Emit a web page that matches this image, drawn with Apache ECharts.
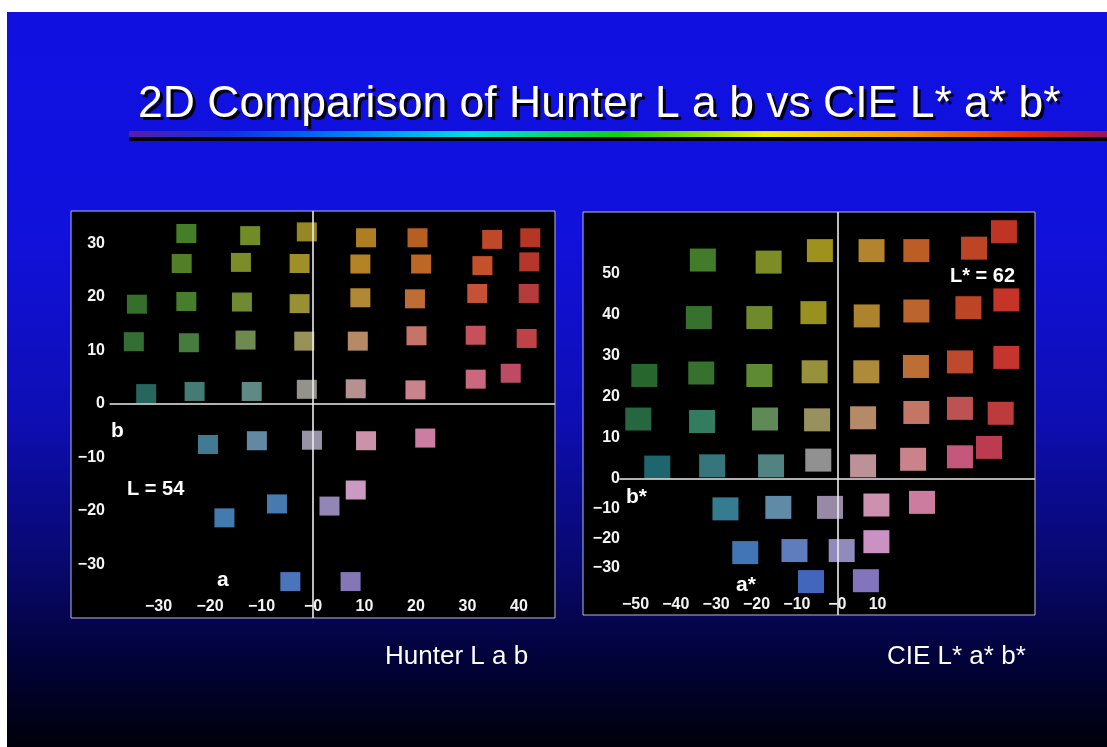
<!DOCTYPE html>
<html><head><meta charset="utf-8">
<script src="https://cdn.jsdelivr.net/npm/echarts@6/dist/echarts.min.js"></script>
<style>html,body{margin:0;padding:0;background:#fff;}#c{width:1107px;height:747px;}</style>
</head><body><div id="c"></div>
<script>
// ---------- Hunter L a b (L = 54) ----------
const hunterA = [
  -24.6, -12.2, -1.2, 10.3, 20.3, 34.8, 42.2,
  -25.5, -14.0, -2.6, 9.2, 21.0, 32.9, 42.0,
  -34.2, -24.6, -13.8, -2.6, 9.2, 19.8, 31.9, 41.9,
  -34.8, -24.1, -13.1, -1.7, 8.7, 20.1, 31.6, 41.5,
  -32.4, -23.0, -11.9, -1.2, 8.3, 19.9, 31.6, 38.4,
  -20.4, -10.9, -0.2, 10.3, 21.8,
  8.3, -7.0, 3.2, -17.2, -4.4, 7.3
];
const hunterB = [
  31.8, 31.4, 32.1, 31.0, 31.0, 30.7, 31.0,
  26.2, 26.4, 26.2, 26.1, 26.1, 25.8, 26.5,
  18.6, 19.1, 19.0, 18.7, 19.8, 19.6, 20.6, 20.6,
  11.6, 11.4, 11.9, 11.7, 11.7, 12.7, 12.8, 12.2,
  1.9, 2.3, 2.3, 2.7, 2.8, 2.6, 4.6, 5.7,
  -7.6, -6.9, -6.8, -6.9, -6.4,
  -16.1, -18.7, -19.1, -21.3, -33.2, -33.2
];
const hunterColor = [
  '#4c8c2c', '#7e9c2c', '#a89628', '#c48c26', '#cc6a26', '#d4502c', '#cc3c2a',
  '#5a8c2a', '#8a9c2c', '#b0a02c', '#c8922a', '#d4722a', '#dc5a30', '#cc3c30',
  '#3c7c30', '#4e8c32', '#7c9a38', '#aaa23a', '#c8983a', '#d47a3a', '#dc5c3c', '#cc4242',
  '#3a7a3a', '#4e8a44', '#7c9a5a', '#aaa262', '#cc9a72', '#dc8274', '#dc5c66', '#d44a4e',
  '#2a726a', '#4a8a80', '#6a9a92', '#a4a49c', '#cca2a2', '#e2929c', '#e0748c', '#d45470',
  '#4a88a2', '#6c9ab4', '#aaa4ba', '#e2a4bc', '#ea8cb4',
  '#e2acd8', '#5088c4', '#a494cc', '#4a8ac2', '#5282d2', '#9484cc'
];
const hunterTicksA = [-30, -20, -10, 0, 10, 20, 30, 40];
const hunterTicksB = [-30, -20, -10, 0, 10, 20, 30];

// ---------- CIE L* a* b* (L* = 62) ----------
const cieA = [
  -33.3, -17.0, -4.3, 8.5, 19.6, 33.9, 41.3,
  -34.3, -19.3, -5.9, 7.3, 19.6, 32.5, 41.9,
  -47.8, -33.7, -19.3, -5.6, 7.2, 19.5, 30.4, 41.9,
  -49.3, -33.5, -17.9, -5.0, 6.4, 19.6, 30.4, 40.5,
  -44.6, -31.0, -16.4, -4.7, 6.4, 18.8, 30.4, 37.6,
  -27.7, -14.6, -1.8, 9.7, 21.0,
  9.7, -22.8, -10.6, 1.1, -6.5, 7.1
];
const cieB = [
  53.3, 52.8, 55.6, 55.6, 55.6, 56.2, 60.2,
  39.3, 39.3, 40.5, 39.7, 40.9, 41.7, 43.6,
  25.2, 25.8, 25.2, 26.1, 26.1, 27.4, 28.5, 29.6,
  14.6, 14.0, 14.6, 14.4, 14.9, 16.2, 17.2, 16.0,
  2.9, 3.2, 3.2, 4.6, 3.2, 4.8, 5.4, 7.7,
  -10.1, -9.6, -9.6, -8.8, -7.9,
  -21.2, -24.9, -24.2, -24.2, -34.7, -34.4
];
const cieColor = [
  '#4a8a30', '#8c9c2a', '#b2a222', '#c89232', '#d2682a', '#d44c2a', '#d63a2a',
  '#3c8032', '#7a9a32', '#aaa224', '#c29232', '#d27032', '#d44c2a', '#dc3a2a',
  '#2c7232', '#3c8034', '#6a9a3a', '#aaa242', '#c29a42', '#d27a3a', '#d45232', '#dc3a32',
  '#2a7248', '#3a8a6a', '#6a9a62', '#aaa26a', '#ca9a72', '#da8272', '#d45a5a', '#d44242',
  '#22727a', '#3c828a', '#5c9292', '#a2a2a2', '#d2a2aa', '#e2929a', '#da628a', '#d2425a',
  '#3c8aa2', '#6c9aba', '#aa9aba', '#eaa2c2', '#ea8ab2',
  '#e2a2da', '#4a82ca', '#6a8ad2', '#a29ad2', '#4a72d2', '#9282d2'
];
const cieTicksA = [-50, -40, -30, -20, -10, 0, 10];
const cieTicksBUpper = [0, 10, 20, 30, 40, 50];
const cieTicksBLower = [-30, -20, -10];

const titleText = '2D Comparison of Hunter L a b vs CIE L* a* b*';
const captionLeft = 'Hunter L a b';
const captionRight = 'CIE L* a* b*';

// ---------- build ----------
const fmtX = v => v < 0 ? '\u2212' + Math.abs(v) : (v === 0 ? '\u22120' : String(v));
const fmtY = v => v < 0 ? '\u2212' + Math.abs(v) : String(v);
// photographed swatches read slightly lighter than sampled: lift brightness a little
function lift(hex, f) {
  const n = parseInt(hex.slice(1), 16);
  const c = [(n >> 16) & 255, (n >> 8) & 255, n & 255].map(v => Math.min(255, Math.round(v * f)));
  return 'rgb(' + c.join(',') + ')';
}
const pts = (A, B, C, keep) => A.map((a, i) => ({ value: [a, B[i]], itemStyle: { color: lift(C[i], 1.12) } }))
  .filter(d => keep(d.value[1]));

const FONT = '"Liberation Sans", Arial, sans-serif';
const lblStyle = { color: '#f4f4f4', fontSize: 16, fontWeight: 'bold', fontFamily: FONT };
const hide = { axisLine: { show: false }, axisTick: { show: false }, splitLine: { show: false } };

function xAx(grid, min, max, ticks, show, margin) {
  return Object.assign({ type: 'value', gridIndex: grid, min, max, position: 'bottom',
    axisLabel: Object.assign({ show, inside: true, customValues: ticks, formatter: fmtX,
      verticalAlign: 'middle', margin }, lblStyle) }, hide);
}
function yAx(grid, min, max, ticks, margin) {
  return Object.assign({ type: 'value', gridIndex: grid, min, max, position: 'left',
    axisLabel: Object.assign({ show: true, inside: true, customValues: ticks, formatter: fmtY,
      align: 'right', margin }, lblStyle) }, hide);
}
const lineStyle = { color: '#ececec', width: 1.6, type: 'solid' };
function ml(segs) {
  return { silent: true, symbol: 'none', label: { show: false }, lineStyle,
    data: segs.map(s => [{ coord: s[0] }, { coord: s[1] }]) };
}

function txt(x, y, text, font, color, align) {
  return { type: 'text', x, y, z: 10,
    style: { text, fill: color || '#fff', font, textAlign: align || 'left', textVerticalAlign: 'middle',
      align: align || 'left', verticalAlign: 'middle' } };
}

const chart = echarts.init(document.getElementById('c'));
chart.setOption({
  animation: false,
  backgroundColor: '#ffffff',
  graphic: [
    { type: 'rect', z: -20, shape: { x: 7, y: 12, width: 1100, height: 735 },
      style: { fill: { type: 'linear', x: 0, y: 0, x2: 0, y2: 1, colorStops: [
        { offset: 0, color: '#1010e2' }, { offset: 0.3, color: '#1111dc' },
        { offset: 0.55, color: '#0e0eb4' }, { offset: 0.75, color: '#08086e' },
        { offset: 0.88, color: '#02023a' }, { offset: 1, color: '#00000a' } ] } } },
    { type: 'rect', z: -15, shape: { x: 129, y: 137, width: 978, height: 4 }, style: { fill: '#000008' } },
    { type: 'rect', z: -14, shape: { x: 129, y: 131, width: 978, height: 6 },
      style: { fill: { type: 'linear', x: 0, y: 0, x2: 1, y2: 0, colorStops: [
        { offset: 0, color: '#5a1ca8' }, { offset: 0.1, color: '#1030e0' },
        { offset: 0.2, color: '#0070f0' }, { offset: 0.35, color: '#00e0e0' },
        { offset: 0.5, color: '#10d010' }, { offset: 0.65, color: '#f0f000' },
        { offset: 0.8, color: '#f89000' }, { offset: 0.92, color: '#e82800' },
        { offset: 1, color: '#a01058' } ] } } },
    { type: 'rect', z: -10, shape: { x: 71, y: 211, width: 484, height: 407 },
      style: { fill: '#000', stroke: '#b8b8d8', lineWidth: 1 } },
    { type: 'rect', z: -10, shape: { x: 583, y: 212, width: 452, height: 403 },
      style: { fill: '#000', stroke: '#b8b8d8', lineWidth: 1 } },
    txt(141, 108, titleText, '44.5px ' + FONT, '#000010'),
    txt(138, 105, titleText, '44.5px ' + FONT, '#ffffff'),
    txt(385, 657, captionLeft, '26px ' + FONT),
    txt(887, 657, captionRight, '26px ' + FONT),
    txt(111, 431, 'b', 'bold 21px ' + FONT),
    txt(127, 489, 'L = 54', 'bold 20px ' + FONT),
    txt(217, 580, 'a', 'bold 21px ' + FONT),
    txt(626, 497, 'b*', 'bold 21px ' + FONT),
    txt(736, 585, 'a*', 'bold 21px ' + FONT),
    txt(950, 276, 'L* = 62', 'bold 20px ' + FONT)
  ],
  grid: [
    { left: 71, top: 211, width: 484, height: 407 },
    { left: 583, top: 212, width: 452, height: 267 },
    { left: 583, top: 479, width: 452, height: 136 }
  ],
  xAxis: [
    xAx(0, -47, 47, hunterTicksA, true, 11),
    xAx(1, -63, 49, cieTicksA, false, 10),
    xAx(2, -63, 49, cieTicksA, true, 10)
  ],
  yAxis: [
    yAx(0, -40, 36, hunterTicksB, 34),
    yAx(1, 0, 65, cieTicksBUpper, 37),
    yAx(2, -46, 0, cieTicksBLower, 37)
  ],
  series: [
    { type: 'scatter', xAxisIndex: 0, yAxisIndex: 0, symbol: 'rect', symbolSize: [20, 19], z: 3,
      data: pts(hunterA, hunterB, hunterColor, () => true),
      markLine: ml([[[-39.5, 0], [47, 0]], [[0, -40], [0, 36]]]) },
    { type: 'scatter', xAxisIndex: 1, yAxisIndex: 1, symbol: 'rect', symbolSize: [26, 23], z: 3,
      data: pts(cieA, cieB, cieColor, b => b >= 0),
      markLine: ml([[[-54, 0], [49, 0]], [[0, 0], [0, 65]]]) },
    { type: 'scatter', xAxisIndex: 2, yAxisIndex: 2, symbol: 'rect', symbolSize: [26, 23], z: 3,
      data: pts(cieA, cieB, cieColor, b => b < 0),
      markLine: ml([[[0, -46], [0, 0]]]) }
  ]
});
</script></body></html>
